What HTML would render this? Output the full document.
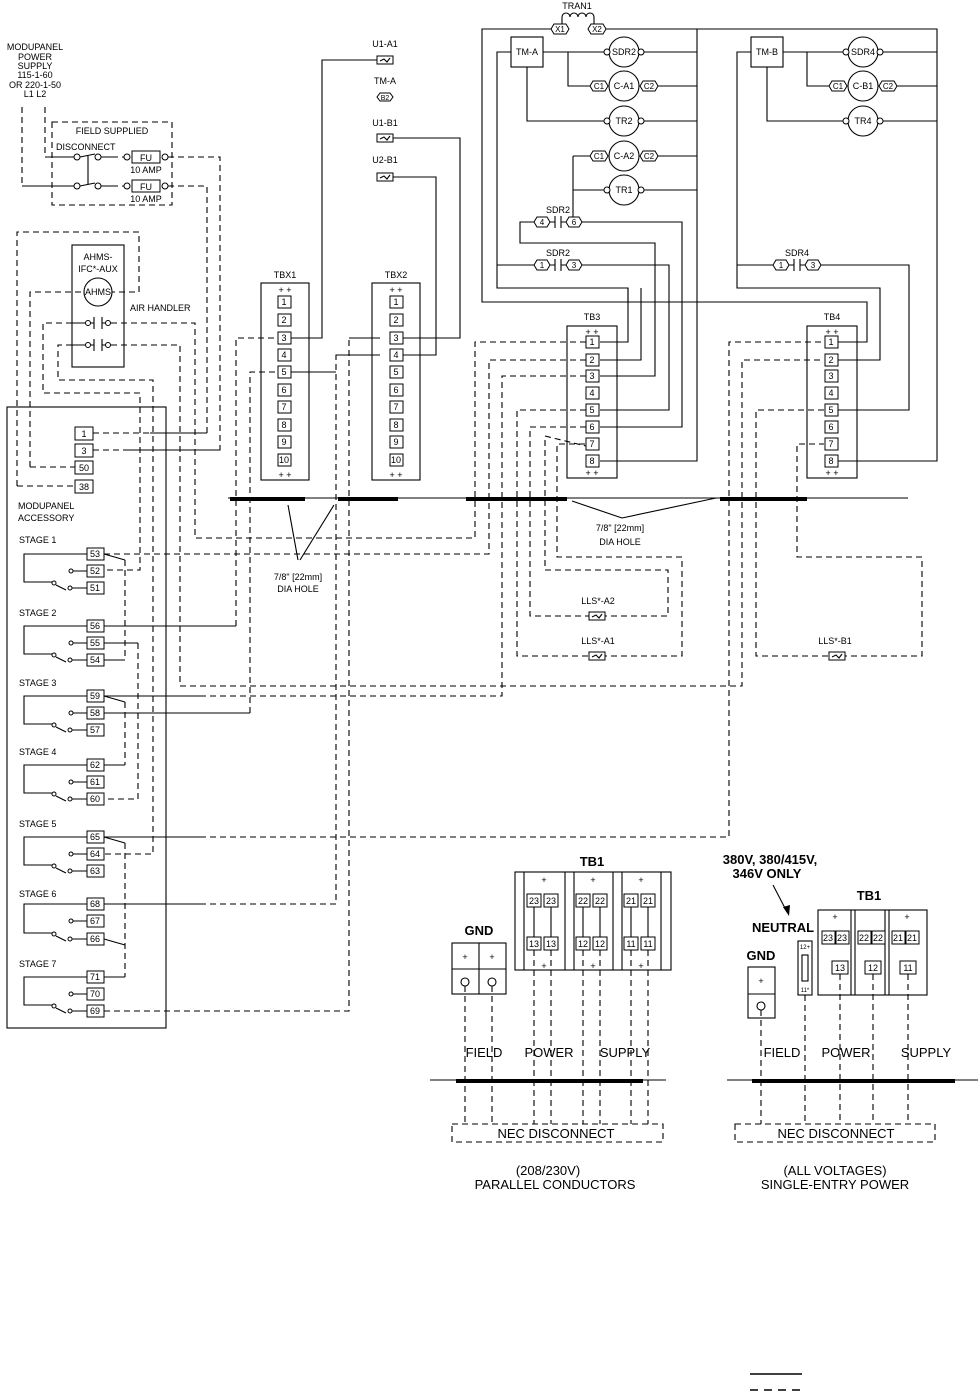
<!DOCTYPE html>
<html><head><meta charset="utf-8"><style>
html,body{margin:0;padding:0;background:#fff}
svg{display:block}
.s{stroke:#000;fill:none;stroke-width:1.1}
.d{stroke:#000;fill:none;stroke-width:1.1;stroke-dasharray:6 4}
.b{stroke:#000;fill:#fff;stroke-width:1}
text{font-family:"Liberation Sans",sans-serif;fill:#000}
.t{font-size:9px}
.n{font-size:9px;text-anchor:middle}
.L{font-size:13px;text-anchor:middle}
</style></head><body>
<svg width="980" height="1394" viewBox="0 0 980 1394" xmlns="http://www.w3.org/2000/svg">
<!-- MODUPANEL supply -->
<text class="n" x="35" y="50">MODUPANEL</text>
<text class="n" x="35" y="60">POWER</text>
<text class="n" x="35" y="69">SUPPLY</text>
<text class="n" x="35" y="78">115-1-60</text>
<text class="n" x="35" y="88">OR 220-1-50</text>
<text class="n" x="35" y="97">L1  L2</text>
<path class="d" d="M22 107V186H60M45 107V157H60"/>
<rect class="d" x="52" y="122" width="120" height="83"/>
<text class="n" x="112" y="134">FIELD SUPPLIED</text>
<text class="t" x="56" y="150">DISCONNECT</text>
<path class="s" d="M45 157H74M80 157L95 154M101 157H112M22 186H74M80 186L95 183M101 186H112M88 156V184"/>
<circle class="b" cx="77" cy="157" r="3"/><circle class="b" cx="98" cy="157" r="3"/>
<circle class="b" cx="77" cy="186" r="3"/><circle class="b" cx="98" cy="186" r="3"/>
<path class="d" d="M112 157H124M112 186H124"/>
<circle class="b" cx="127" cy="157" r="3"/><circle class="b" cx="165" cy="157" r="3"/>
<circle class="b" cx="127" cy="186" r="3"/><circle class="b" cx="165" cy="186" r="3"/>
<rect class="b" x="132" y="151" width="28" height="12"/><rect class="b" x="132" y="180" width="28" height="12"/>
<text class="n" x="146" y="161">FU</text><text class="n" x="146" y="190">FU</text>
<text class="n" x="146" y="173">10 AMP</text><text class="n" x="146" y="202">10 AMP</text>
<path class="d" d="M168 157H220V450H125M168 186H207V433H150"/>
<path class="s" d="M125 450H220M150 433H207"/>
<!-- AHMS -->
<path class="d" d="M17 486V232H139V292H112M30 467V292H84"/>
<rect class="s" x="72" y="245" width="52" height="122"/>
<text class="n" x="98" y="260">AHMS-</text><text class="n" x="98" y="272">IFC*-AUX</text>
<circle class="s" cx="98" cy="292" r="14"/><text class="n" x="98" y="295">AHMS</text>
<text class="t" x="130" y="311">AIR HANDLER</text>
<path class="s" d="M72 323H85M91 323H94M102 323H106M72 345H85M91 345H94M102 345H106M94 317V329M102 317V329M94 339V351M102 339V351"/>
<circle class="b" cx="88" cy="323" r="2.5"/><circle class="b" cx="108" cy="323" r="2.5"/>
<circle class="b" cx="88" cy="345" r="2.5"/><circle class="b" cx="108" cy="345" r="2.5"/>
<path class="d" d="M72 323H43V393H140V570H104M72 345H58V380H153V854H104M111 323H195V538H475V342H586M111 345H180V686H742V360H824"/>
<!-- accessory box -->
<rect class="s" x="7" y="407" width="159" height="621"/>
<rect class="b" x="75" y="427" width="18" height="13"/><text class="n" x="84" y="437">1</text>
<rect class="b" x="75" y="444" width="18" height="13"/><text class="n" x="84" y="454">3</text>
<rect class="b" x="75" y="461" width="18" height="13"/><text class="n" x="84" y="471">50</text>
<rect class="b" x="75" y="480" width="18" height="13"/><text class="n" x="84" y="490">38</text>
<path class="d" d="M93 433H150M93 450H125M30 467H75M17 486H75"/>
<text class="t" x="18" y="509">MODUPANEL</text><text class="t" x="18" y="521">ACCESSORY</text>
<!-- stages -->
<g>
<text class="t" x="19" y="543">STAGE 1</text>
<path class="s" d="M87 554H24V582H52M56 585L66 590M70 588H87M73 571H87"/><circle class="b" cx="70" cy="588" r="2"/><circle class="b" cx="71" cy="571" r="2"/><circle class="b" cx="54" cy="583" r="2"/>
<rect class="b" x="87" y="548" width="17" height="12"/><text class="n" x="95" y="557">53</text>
<rect class="b" x="87" y="565" width="17" height="12"/><text class="n" x="95" y="574">52</text>
<rect class="b" x="87" y="582" width="17" height="12"/><text class="n" x="95" y="591">51</text>
<text class="t" x="19" y="616">STAGE 2</text>
<path class="s" d="M87 626H24V654H52M56 657L66 662M70 660H87M73 643H87"/><circle class="b" cx="70" cy="660" r="2"/><circle class="b" cx="71" cy="643" r="2"/><circle class="b" cx="54" cy="655" r="2"/>
<rect class="b" x="87" y="620" width="17" height="12"/><text class="n" x="95" y="629">56</text>
<rect class="b" x="87" y="637" width="17" height="12"/><text class="n" x="95" y="646">55</text>
<rect class="b" x="87" y="654" width="17" height="12"/><text class="n" x="95" y="663">54</text>
<text class="t" x="19" y="686">STAGE 3</text>
<path class="s" d="M87 696H24V724H52M56 727L66 732M70 730H87M73 713H87"/><circle class="b" cx="70" cy="730" r="2"/><circle class="b" cx="71" cy="713" r="2"/><circle class="b" cx="54" cy="725" r="2"/>
<rect class="b" x="87" y="690" width="17" height="12"/><text class="n" x="95" y="699">59</text>
<rect class="b" x="87" y="707" width="17" height="12"/><text class="n" x="95" y="716">58</text>
<rect class="b" x="87" y="724" width="17" height="12"/><text class="n" x="95" y="733">57</text>
<text class="t" x="19" y="755">STAGE 4</text>
<path class="s" d="M87 765H24V793H52M56 796L66 801M70 799H87M73 782H87"/><circle class="b" cx="70" cy="799" r="2"/><circle class="b" cx="71" cy="782" r="2"/><circle class="b" cx="54" cy="794" r="2"/>
<rect class="b" x="87" y="759" width="17" height="12"/><text class="n" x="95" y="768">62</text>
<rect class="b" x="87" y="776" width="17" height="12"/><text class="n" x="95" y="785">61</text>
<rect class="b" x="87" y="793" width="17" height="12"/><text class="n" x="95" y="802">60</text>
<text class="t" x="19" y="827">STAGE 5</text>
<path class="s" d="M87 837H24V865H52M56 868L66 873M70 871H87M73 854H87"/><circle class="b" cx="70" cy="871" r="2"/><circle class="b" cx="71" cy="854" r="2"/><circle class="b" cx="54" cy="866" r="2"/>
<rect class="b" x="87" y="831" width="17" height="12"/><text class="n" x="95" y="840">65</text>
<rect class="b" x="87" y="848" width="17" height="12"/><text class="n" x="95" y="857">64</text>
<rect class="b" x="87" y="865" width="17" height="12"/><text class="n" x="95" y="874">63</text>
<text class="t" x="19" y="897">STAGE 6</text>
<path class="s" d="M87 904H24V933H52M56 936L66 941M70 939H87M73 921H87"/><circle class="b" cx="70" cy="939" r="2"/><circle class="b" cx="71" cy="921" r="2"/><circle class="b" cx="54" cy="934" r="2"/>
<rect class="b" x="87" y="898" width="17" height="12"/><text class="n" x="95" y="907">68</text>
<rect class="b" x="87" y="915" width="17" height="12"/><text class="n" x="95" y="924">67</text>
<rect class="b" x="87" y="933" width="17" height="12"/><text class="n" x="95" y="942">66</text>
<text class="t" x="19" y="967">STAGE 7</text>
<path class="s" d="M87 977H24V1005H52M56 1008L66 1013M70 1011H87M73 994H87"/><circle class="b" cx="70" cy="1011" r="2"/><circle class="b" cx="71" cy="994" r="2"/><circle class="b" cx="54" cy="1006" r="2"/>
<rect class="b" x="87" y="971" width="17" height="12"/><text class="n" x="95" y="980">71</text>
<rect class="b" x="87" y="988" width="17" height="12"/><text class="n" x="95" y="997">70</text>
<rect class="b" x="87" y="1005" width="17" height="12"/><text class="n" x="95" y="1014">69</text>
</g>
<path class="s" d="M104 554L125 560M104 660H125M104 696L125 702M104 765H125M104 837L125 843M104 939L125 945M104 977H125M104 626H236M104 713H250M104 696H200M104 837H200M104 904H200M104 643H138"/>
<path class="d" d="M125 560V660M125 702V765M125 843V977M138 643V799H104M104 554H489V360H586M200 696H502V376H586M200 837H729V342H824M200 904H336V355H380M104 1011H349V338H380M236 626V338H276M250 713V372H276"/>
<!-- TBX1/TBX2 -->
<rect class="s" x="261" y="283" width="48" height="197"/>
<text class="n" x="285" y="278">TBX1</text>
<text class="n" x="285" y="293">+ +</text><text class="n" x="285" y="478">+ +</text>
<rect class="s" x="372" y="283" width="48" height="197"/>
<text class="n" x="396" y="278">TBX2</text>
<text class="n" x="396" y="293">+ +</text><text class="n" x="396" y="478">+ +</text>
<g>
<rect class="b" x="278" y="296" width="13" height="12"/><text class="n" x="284" y="305">1</text>
<rect class="b" x="278" y="314" width="13" height="12"/><text class="n" x="284" y="323">2</text>
<rect class="b" x="278" y="332" width="13" height="12"/><text class="n" x="284" y="341">3</text>
<rect class="b" x="278" y="349" width="13" height="12"/><text class="n" x="284" y="358">4</text>
<rect class="b" x="278" y="366" width="13" height="12"/><text class="n" x="284" y="375">5</text>
<rect class="b" x="278" y="384" width="13" height="12"/><text class="n" x="284" y="393">6</text>
<rect class="b" x="278" y="401" width="13" height="12"/><text class="n" x="284" y="410">7</text>
<rect class="b" x="278" y="419" width="13" height="12"/><text class="n" x="284" y="428">8</text>
<rect class="b" x="278" y="436" width="13" height="12"/><text class="n" x="284" y="445">9</text>
<rect class="b" x="278" y="454" width="13" height="12"/><text class="n" x="284" y="463">10</text>
<rect class="b" x="390" y="296" width="13" height="12"/><text class="n" x="396" y="305">1</text>
<rect class="b" x="390" y="314" width="13" height="12"/><text class="n" x="396" y="323">2</text>
<rect class="b" x="390" y="332" width="13" height="12"/><text class="n" x="396" y="341">3</text>
<rect class="b" x="390" y="349" width="13" height="12"/><text class="n" x="396" y="358">4</text>
<rect class="b" x="390" y="366" width="13" height="12"/><text class="n" x="396" y="375">5</text>
<rect class="b" x="390" y="384" width="13" height="12"/><text class="n" x="396" y="393">6</text>
<rect class="b" x="390" y="401" width="13" height="12"/><text class="n" x="396" y="410">7</text>
<rect class="b" x="390" y="419" width="13" height="12"/><text class="n" x="396" y="428">8</text>
<rect class="b" x="390" y="436" width="13" height="12"/><text class="n" x="396" y="445">9</text>
<rect class="b" x="390" y="454" width="13" height="12"/><text class="n" x="396" y="463">10</text>
</g>
<path class="s" d="M291 338H322V60H377M291 372H336M403 338H460V138H393M403 355H436V177H393M380 338H349M380 355H336"/>
<text class="n" x="385" y="47">U1-A1</text><rect class="b" x="377" y="56" width="16" height="8"/><path class="s" d="M380 61L384 59L387 62L390 58"/>
<text class="n" x="385" y="84">TM-A</text><path class="b" d="M380 93H390L393 97L390 101H380L377 97Z"/><text class="n" x="385" y="100" style="font-size:7px">B2</text>
<text class="n" x="385" y="126">U1-B1</text><rect class="b" x="377" y="134" width="16" height="8"/><path class="s" d="M380 139L384 137L387 140L390 136"/>
<text class="n" x="385" y="163">U2-B1</text><rect class="b" x="377" y="173" width="16" height="8"/><path class="s" d="M380 178L384 176L387 179L390 175"/>
<!-- wall -->
<path class="s" d="M228 498H908"/>
<path stroke="#000" stroke-width="4" d="M230 499H305M338 499H398M466 499H567M720 499H807"/>
<path class="s" d="M298 560L288 505M300 560L334 505M622 518L572 501M622 518L716 498"/>
<text class="n" x="298" y="580">7/8" [22mm]</text><text class="n" x="298" y="592">DIA HOLE</text>
<text class="n" x="620" y="531">7/8" [22mm]</text><text class="n" x="620" y="545">DIA HOLE</text>
<!-- top right -->
<text class="n" x="577" y="9">TRAN1</text>
<path class="s" d="M562 24V17a4 4 0 0 1 8 0a4 4 0 0 1 8 0a4 4 0 0 1 8 0a4 4 0 0 1 8 0V24"/>
<path class="b" d="M554 24H566L569 29L566 34H554L551 29Z"/><text class="n" x="560" y="32" style="font-size:8px">X1</text>
<path class="b" d="M591 24H603L606 29L603 34H591L588 29Z"/><text class="n" x="597" y="32" style="font-size:8px">X2</text>
<path class="s" d="M551 29H482V302H867V342H838M606 29H937V461H838M697 29V461H600"/>
<rect class="s" x="511" y="37" width="32" height="30"/><text class="n" x="527" y="55">TM-A</text>
<rect class="s" x="751" y="37" width="32" height="30"/><text class="n" x="767" y="55">TM-B</text>
<path class="s" d="M511 52H497V288H628V342H600M543 52H606M568 52V86H590M527 67V121H606M642 52H697M656 86H697M642 121H697M656 156H697M642 190H697M573 156H590M573 156V222M573 190H606"/>
<path class="s" d="M751 52H737V288H880V360H838M783 52H845M807 52V86H829M767 67V121H845M881 52H937M895 86H937M881 121H937"/>
<g>
<circle class="s" cx="624" cy="52" r="15"/><text class="n" x="624" y="55">SDR2</text><circle class="b" cx="607" cy="52" r="3"/><circle class="b" cx="641" cy="52" r="3"/>
<circle class="s" cx="624" cy="86" r="15"/><text class="n" x="624" y="89">C-A1</text>
<circle class="s" cx="624" cy="121" r="15"/><text class="n" x="624" y="124">TR2</text><circle class="b" cx="607" cy="121" r="3"/><circle class="b" cx="641" cy="121" r="3"/>
<circle class="s" cx="624" cy="156" r="15"/><text class="n" x="624" y="159">C-A2</text>
<circle class="s" cx="624" cy="190" r="15"/><text class="n" x="624" y="193">TR1</text><circle class="b" cx="607" cy="190" r="3"/><circle class="b" cx="641" cy="190" r="3"/>
<circle class="s" cx="863" cy="52" r="15"/><text class="n" x="863" y="55">SDR4</text><circle class="b" cx="846" cy="52" r="3"/><circle class="b" cx="880" cy="52" r="3"/>
<circle class="s" cx="863" cy="86" r="15"/><text class="n" x="863" y="89">C-B1</text>
<circle class="s" cx="863" cy="121" r="15"/><text class="n" x="863" y="124">TR4</text><circle class="b" cx="846" cy="121" r="3"/><circle class="b" cx="880" cy="121" r="3"/>
<path class="b" d="M593 81H605L608 86L605 91H593L590 86Z"/><text class="n" x="599" y="89" style="font-size:8px">C1</text>
<path class="b" d="M643 81H655L658 86L655 91H643L640 86Z"/><text class="n" x="649" y="89" style="font-size:8px">C2</text>
<path class="b" d="M593 151H605L608 156L605 161H593L590 156Z"/><text class="n" x="599" y="159" style="font-size:8px">C1</text>
<path class="b" d="M643 151H655L658 156L655 161H643L640 156Z"/><text class="n" x="649" y="159" style="font-size:8px">C2</text>
<path class="b" d="M832 81H844L847 86L844 91H832L829 86Z"/><text class="n" x="838" y="89" style="font-size:8px">C1</text>
<path class="b" d="M882 81H894L897 86L894 91H882L879 86Z"/><text class="n" x="888" y="89" style="font-size:8px">C2</text>
</g>
<!-- contacts -->
<text class="n" x="558" y="213">SDR2</text>
<path class="b" d="M537 217H547L550 222L547 227H537L534 222Z"/><text class="n" x="542" y="225" style="font-size:8px">4</text>
<path class="b" d="M569 217H579L582 222L579 227H569L566 222Z"/><text class="n" x="574" y="225" style="font-size:8px">6</text>
<path class="s" d="M550 222H555M561 222H566M555 216V228M561 216V228M534 222H520V243H655V376H600M582 222H682V427H600"/>
<text class="n" x="558" y="256">SDR2</text>
<path class="b" d="M537 260H547L550 265L547 270H537L534 265Z"/><text class="n" x="542" y="268" style="font-size:8px">1</text>
<path class="b" d="M569 260H579L582 265L579 270H569L566 265Z"/><text class="n" x="574" y="268" style="font-size:8px">3</text>
<path class="s" d="M550 265H555M561 265H566M555 259V271M561 259V271M534 265H497M582 265H669V410H600M628 288V302M641 288V360H600"/>
<text class="n" x="797" y="256">SDR4</text>
<path class="b" d="M776 260H786L789 265L786 270H776L773 265Z"/><text class="n" x="781" y="268" style="font-size:8px">1</text>
<path class="b" d="M808 260H818L821 265L818 270H808L805 265Z"/><text class="n" x="813" y="268" style="font-size:8px">3</text>
<path class="s" d="M789 265H794M800 265H805M794 259V271M800 259V271M773 265H737M821 265H909V410H838"/>
<!-- TB3/TB4 -->
<rect class="s" x="567" y="326" width="50" height="152"/><text class="n" x="592" y="320">TB3</text>
<text class="n" x="592" y="335">+ +</text><text class="n" x="592" y="476">+ +</text>
<rect class="s" x="807" y="326" width="50" height="152"/><text class="n" x="832" y="320">TB4</text>
<text class="n" x="832" y="335">+ +</text><text class="n" x="832" y="476">+ +</text>
<g>
<rect class="b" x="586" y="336" width="13" height="12"/><text class="n" x="592" y="345">1</text>
<rect class="b" x="586" y="354" width="13" height="12"/><text class="n" x="592" y="363">2</text>
<rect class="b" x="586" y="370" width="13" height="12"/><text class="n" x="592" y="379">3</text>
<rect class="b" x="586" y="387" width="13" height="12"/><text class="n" x="592" y="396">4</text>
<rect class="b" x="586" y="404" width="13" height="12"/><text class="n" x="592" y="413">5</text>
<rect class="b" x="586" y="421" width="13" height="12"/><text class="n" x="592" y="430">6</text>
<rect class="b" x="586" y="438" width="13" height="12"/><text class="n" x="592" y="447">7</text>
<rect class="b" x="586" y="455" width="13" height="12"/><text class="n" x="592" y="464">8</text>
<rect class="b" x="825" y="336" width="13" height="12"/><text class="n" x="831" y="345">1</text>
<rect class="b" x="825" y="354" width="13" height="12"/><text class="n" x="831" y="363">2</text>
<rect class="b" x="825" y="370" width="13" height="12"/><text class="n" x="831" y="379">3</text>
<rect class="b" x="825" y="387" width="13" height="12"/><text class="n" x="831" y="396">4</text>
<rect class="b" x="825" y="404" width="13" height="12"/><text class="n" x="831" y="413">5</text>
<rect class="b" x="825" y="421" width="13" height="12"/><text class="n" x="831" y="430">6</text>
<rect class="b" x="825" y="438" width="13" height="12"/><text class="n" x="831" y="447">7</text>
<rect class="b" x="825" y="455" width="13" height="12"/><text class="n" x="831" y="464">8</text>
</g>
<path class="d" d="M586 410H517V656H589M601 656H682V557H557V444H586M586 427H530V616H589M601 616H668V570H545V436L586 446M824 410H756V656H829M841 656H922V557H797V444H824"/>
<text class="n" x="598" y="604">LLS*-A2</text><rect class="b" x="589" y="612" width="16" height="8"/><path class="s" d="M592 617L596 615L599 618L602 614"/>
<text class="n" x="598" y="644">LLS*-A1</text><rect class="b" x="589" y="652" width="16" height="8"/><path class="s" d="M592 657L596 655L599 658L602 654"/>
<text class="n" x="835" y="644">LLS*-B1</text><rect class="b" x="829" y="652" width="16" height="8"/><path class="s" d="M832 657L836 655L839 658L842 654"/>
<!-- bottom left TB1 -->
<text class="L" x="592" y="866" style="font-weight:bold">TB1</text>
<rect class="s" x="515" y="872" width="156" height="98"/>
<path class="s" d="M524 872V970M565 872V970M574 872V970M613 872V970M622 872V970M661 872V970"/>
<text class="n" x="544" y="883">+</text><text class="n" x="593" y="883">+</text><text class="n" x="641" y="883">+</text>
<text class="n" x="544" y="969">+</text><text class="n" x="593" y="969">+</text><text class="n" x="641" y="969">+</text>
<g style="font-size:10px">
<rect class="b" x="527" y="894" width="14" height="13"/><text class="n" x="534" y="904">23</text>
<rect class="b" x="544" y="894" width="14" height="13"/><text class="n" x="551" y="904">23</text>
<rect class="b" x="576" y="894" width="14" height="13"/><text class="n" x="583" y="904">22</text>
<rect class="b" x="593" y="894" width="14" height="13"/><text class="n" x="600" y="904">22</text>
<rect class="b" x="624" y="894" width="14" height="13"/><text class="n" x="631" y="904">21</text>
<rect class="b" x="641" y="894" width="14" height="13"/><text class="n" x="648" y="904">21</text>
<rect class="b" x="527" y="937" width="14" height="13"/><text class="n" x="534" y="947">13</text>
<rect class="b" x="544" y="937" width="14" height="13"/><text class="n" x="551" y="947">13</text>
<rect class="b" x="576" y="937" width="14" height="13"/><text class="n" x="583" y="947">12</text>
<rect class="b" x="593" y="937" width="14" height="13"/><text class="n" x="600" y="947">12</text>
<rect class="b" x="624" y="937" width="14" height="13"/><text class="n" x="631" y="947">11</text>
<rect class="b" x="641" y="937" width="14" height="13"/><text class="n" x="648" y="947">11</text>
</g>
<path class="s" d="M534 907V937M551 907V937M583 907V937M600 907V937M631 907V937M648 907V937"/>
<text class="L" x="479" y="935" style="font-weight:bold">GND</text>
<rect class="s" x="452" y="943" width="54" height="51"/><path class="s" d="M452 969H506M479 943V994"/>
<text class="n" x="465" y="960">+</text><text class="n" x="492" y="960">+</text>
<circle class="s" cx="465" cy="982" r="4"/><circle class="s" cx="492" cy="982" r="4"/>
<path class="d" d="M465 986V1124M492 986V1124M534 950V1124M551 950V1124M583 950V1124M600 950V1124M631 950V1124M648 950V1124"/>
<text class="L" x="484" y="1057">FIELD</text><text class="L" x="549" y="1057">POWER</text><text class="L" x="625" y="1057">SUPPLY</text>
<path class="s" d="M430 1080H666"/><path stroke="#000" stroke-width="4" d="M456 1081H643"/>
<rect class="d" x="452" y="1124" width="211" height="18"/>
<text class="L" x="556" y="1138">NEC DISCONNECT</text>
<text class="L" x="548" y="1175">(208/230V)</text><text class="L" x="555" y="1189">PARALLEL CONDUCTORS</text>
<!-- bottom right -->
<text class="L" x="770" y="864" style="font-weight:bold">380V, 380/415V,</text>
<text class="L" x="767" y="878" style="font-weight:bold">346V ONLY</text>
<path class="s" d="M773 885L787 912"/><path d="M789 916L783 907L790 905Z" fill="#000"/>
<text class="L" x="869" y="900" style="font-weight:bold">TB1</text>
<text class="L" x="783" y="932" style="font-weight:bold">NEUTRAL</text>
<text class="L" x="761" y="960" style="font-weight:bold">GND</text>
<rect class="s" x="748" y="967" width="27" height="51"/><path class="s" d="M748 994H775"/>
<text class="n" x="761" y="984">+</text><circle class="s" cx="761" cy="1006" r="4"/>
<rect class="s" x="798" y="941" width="14" height="54"/><rect class="s" x="802" y="955" width="6" height="26"/>
<text class="n" x="805" y="949" style="font-size:6px">12+</text><text class="n" x="805" y="992" style="font-size:6px">11*</text>
<rect class="s" x="818" y="910" width="109" height="85"/>
<path class="s" d="M851 910V995M855 910V995M885 910V995M889 910V995"/>
<text class="n" x="835" y="920">+</text><text class="n" x="907" y="920">+</text>
<g style="font-size:10px">
<rect class="b" x="822" y="931" width="13" height="13"/><text class="n" x="828" y="941">23</text>
<rect class="b" x="836" y="931" width="13" height="13"/><text class="n" x="842" y="941">23</text>
<rect class="b" x="858" y="931" width="13" height="13"/><text class="n" x="864" y="941">22</text>
<rect class="b" x="872" y="931" width="13" height="13"/><text class="n" x="878" y="941">22</text>
<rect class="b" x="892" y="931" width="13" height="13"/><text class="n" x="898" y="941">21</text>
<rect class="b" x="906" y="931" width="13" height="13"/><text class="n" x="912" y="941">21</text>
<rect class="b" x="832" y="961" width="16" height="13"/><text class="n" x="840" y="971">13</text>
<rect class="b" x="865" y="961" width="16" height="13"/><text class="n" x="873" y="971">12</text>
<rect class="b" x="900" y="961" width="16" height="13"/><text class="n" x="908" y="971">11</text>
</g>
<path class="d" d="M761 1010V1124M805 995V1124M840 974V1124M873 974V1124M908 974V1124"/>
<text class="L" x="782" y="1057">FIELD</text><text class="L" x="846" y="1057">POWER</text><text class="L" x="926" y="1057">SUPPLY</text>
<path class="s" d="M727 1080H978"/><path stroke="#000" stroke-width="4" d="M752 1081H955"/>
<rect class="d" x="735" y="1124" width="200" height="18"/>
<text class="L" x="836" y="1138">NEC DISCONNECT</text>
<text class="L" x="835" y="1175">(ALL VOLTAGES)</text><text class="L" x="835" y="1189">SINGLE-ENTRY POWER</text>
<!-- legend -->
<path stroke="#000" stroke-width="1.5" d="M750 1374H802"/>
<path stroke="#000" stroke-width="1.5" stroke-dasharray="8 6" d="M750 1390H802"/>
</svg>
</body></html>
